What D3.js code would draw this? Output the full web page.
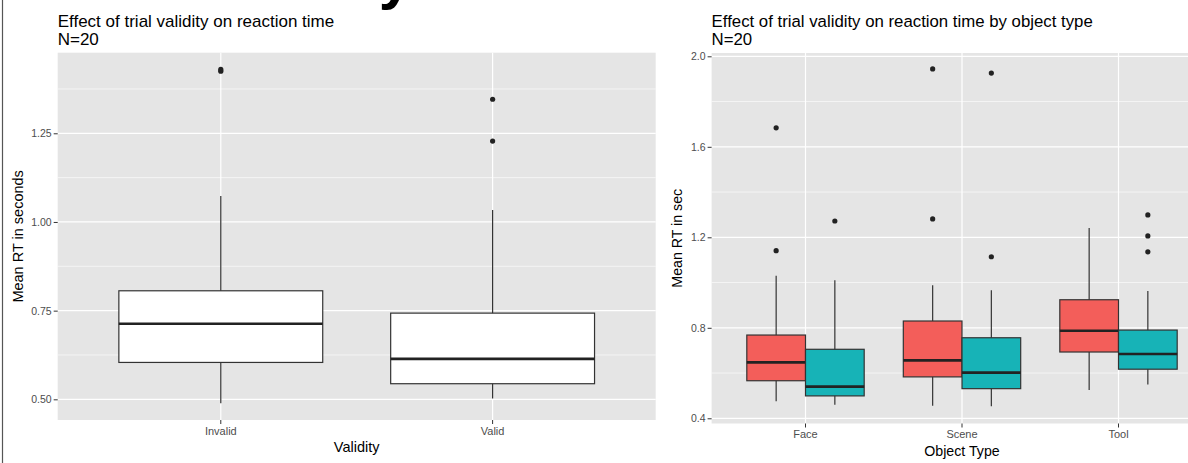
<!DOCTYPE html>
<html>
<head>
<meta charset="utf-8">
<script src="https://cdn.jsdelivr.net/npm/d3@7"></script>
<style>
  body { margin: 0; background: #fff; }
  svg { display: block; font-family: "Liberation Sans", Arial, sans-serif; }
</style>
</head>
<body>
<svg id="chart"></svg>
<script>
'use strict'

// left plot: validity only
var validity = ["Invalid", "Valid"];
// [lower whisker, q1, median, q3, upper whisker]
var validityBox = [
	[0.489, 0.604, 0.713, 0.806, 1.073],
	[0.502, 0.544, 0.614, 0.743, 1.034]
];
var validityOutliers = [[1.425, 1.430], [1.228, 1.346]];
var leftTicks = [0.50, 0.75, 1.00, 1.25];

// right plot: by object type
var objectTypes = ["Face", "Scene", "Tool"];
var trialTypes = ["Invalid", "Valid"];
var invalidBox = [
	[0.475, 0.566, 0.647, 0.768, 1.030],
	[0.456, 0.583, 0.656, 0.830, 0.988],
	[0.525, 0.693, 0.787, 0.924, 1.241]
];
var validBox = [
	[0.460, 0.499, 0.540, 0.705, 1.010],
	[0.453, 0.531, 0.602, 0.756, 0.966],
	[0.549, 0.617, 0.684, 0.790, 0.963]
];
var invalidOutliers = [[1.141, 1.684], [1.281, 1.944], []];
var validOutliers = [[1.272], [1.114, 1.926], [1.136, 1.206, 1.299]];
var rightTicks = [0.4, 0.8, 1.2, 1.6, 2.0];

var WIDTH = 1188, HEIGHT = 463;
var panelFill = "#e5e5e5",
	tickColor = "#4d4d4d",
	boxStroke = "#333333",
	fillColors = ["#f35e5a", "#17b3b7"];

var svg = d3.select("#chart").attr("width", WIDTH).attr("height", HEIGHT);

// frame line on the left and the slide heading, mostly above the picture
svg.append("line")
	.attr("x1", 2.5).attr("x2", 2.5).attr("y1", 0).attr("y2", HEIGHT)
	.style("stroke", "#555").style("stroke-width", 1.2);
svg.append("text")
	.attr("x", 412).attr("y", -2)
	.attr("text-anchor", "end")
	.style("font-size", "60px").style("font-weight", "bold")
	.text("Validity");

function drawPanel(opt) {
	var g = svg.append("g");
	var x = d3.scaleBand().domain(opt.cats).range([opt.left, opt.right])
		.paddingInner(0).paddingOuter(0.1);
	var y = d3.scaleLinear().domain(opt.yDomain).range([opt.bottom, opt.top]);

	g.append("rect")
		.attr("x", opt.left).attr("y", opt.top)
		.attr("width", opt.right - opt.left).attr("height", opt.bottom - opt.top)
		.style("fill", panelFill);

	// minor grid
	g.selectAll(".minor").data(opt.minor).enter().append("line")
		.attr("x1", opt.left).attr("x2", opt.right)
		.attr("y1", function(d) { return y(d) }).attr("y2", function(d) { return y(d) })
		.style("stroke", "#fff").style("stroke-width", 0.6);
	// major grid
	g.selectAll(".major").data(opt.ticks).enter().append("line")
		.attr("x1", opt.left).attr("x2", opt.right)
		.attr("y1", function(d) { return y(d) }).attr("y2", function(d) { return y(d) })
		.style("stroke", "#fff").style("stroke-width", 1.2);
	g.selectAll(".vgrid").data(opt.cats).enter().append("line")
		.attr("x1", function(d) { return x(d) + x.bandwidth() / 2 })
		.attr("x2", function(d) { return x(d) + x.bandwidth() / 2 })
		.attr("y1", opt.top).attr("y2", opt.bottom)
		.style("stroke", "#fff").style("stroke-width", 1.2);

	// y axis
	var yAxis = g.append("g")
		.attr("transform", "translate(" + opt.left + ",0)")
		.call(d3.axisLeft(y).tickValues(opt.ticks).tickFormat(d3.format(opt.fmt))
			.tickSize(4).tickPadding(2));
	yAxis.select(".domain").remove();
	yAxis.selectAll("line").style("stroke", "#333");
	yAxis.selectAll("text").style("fill", tickColor).style("font-size", "10.5px")
		.style("font-family", "Liberation Sans, Arial, sans-serif");

	// x axis
	var xAxis = g.append("g")
		.attr("transform", "translate(0," + opt.bottom + ")")
		.call(d3.axisBottom(x).tickSize(4).tickPadding(3));
	xAxis.select(".domain").remove();
	xAxis.selectAll("line").style("stroke", "#333");
	xAxis.selectAll("text").style("fill", tickColor).style("font-size", "11px")
		.style("font-family", "Liberation Sans, Arial, sans-serif");

	// titles
	g.append("text").attr("x", opt.left).attr("y", 27)
		.style("font-size", opt.titleSize).text(opt.title);
	g.append("text").attr("x", opt.left).attr("y", 45)
		.style("font-size", opt.titleSize).text("N=20");
	g.append("text")
		.attr("x", (opt.left + opt.right) / 2)
		.attr("y", opt.xTitleY)
		.attr("text-anchor", "middle")
		.style("font-size", opt.axisTitleSize).text(opt.xTitle);
	g.append("text")
		.attr("transform", "translate(" + opt.yTitleX + "," + ((opt.top + opt.bottom) / 2) + ") rotate(-90)")
		.attr("text-anchor", "middle")
		.style("font-size", opt.axisTitleSize).text(opt.yTitle);

	return { g: g, x: x, y: y };
}

function drawBox(g, y, cx, w, s, outs, fill) {
	g.append("line")
		.attr("x1", cx).attr("x2", cx).attr("y1", y(s[0])).attr("y2", y(s[4]))
		.style("stroke", boxStroke).style("stroke-width", 1.2);
	g.append("rect")
		.attr("x", cx - w / 2).attr("y", y(s[3]))
		.attr("width", w).attr("height", y(s[1]) - y(s[3]))
		.style("fill", fill).style("stroke", boxStroke).style("stroke-width", 1.2);
	g.append("line")
		.attr("x1", cx - w / 2).attr("x2", cx + w / 2)
		.attr("y1", y(s[2])).attr("y2", y(s[2]))
		.style("stroke", "#222").style("stroke-width", 2.6);
	g.selectAll(null).data(outs).enter().append("circle")
		.attr("cx", cx).attr("cy", function(d) { return y(d) })
		.attr("r", 2.6).style("fill", "#222");
}

// left panel
var left = drawPanel({
	cats: validity, left: 57.7, right: 655.7, top: 52.7, bottom: 420,
	yDomain: [0.4417, 1.4772], ticks: leftTicks, minor: [0.625, 0.875, 1.125, 1.375],
	fmt: ".2f", title: "Effect of trial validity on reaction time", titleSize: "17px",
	xTitle: "Validity", xTitleY: 452, yTitle: "Mean RT in seconds", yTitleX: 23,
	axisTitleSize: "14.5px"
});
validity.forEach(function(c, i) {
	var bw = left.x.bandwidth();
	drawBox(left.g, left.y, left.x(c) + bw / 2, bw * 0.75, validityBox[i], validityOutliers[i], "#fff");
});

// right panel
var right = drawPanel({
	cats: objectTypes, left: 711.6, right: 1212.4, top: 53, bottom: 423.5,
	yDomain: [0.377, 2.0146], ticks: rightTicks, minor: [0.6, 1.0, 1.4, 1.8],
	fmt: ".1f", title: "Effect of trial validity on reaction time by object type", titleSize: "16.8px",
	xTitle: "Object Type", xTitleY: 456, yTitle: "Mean RT in sec", yTitleX: 682,
	axisTitleSize: "14.2px"
});
var sub = d3.scaleBand().domain(trialTypes).range([-0.375, 0.375]);
objectTypes.forEach(function(c, i) {
	var bw = right.x.bandwidth();
	var cx = right.x(c) + bw / 2;
	var w = sub.bandwidth() * bw;
	drawBox(right.g, right.y, cx + (sub("Invalid") + sub.bandwidth() / 2) * bw, w, invalidBox[i], invalidOutliers[i], fillColors[0]);
	drawBox(right.g, right.y, cx + (sub("Valid") + sub.bandwidth() / 2) * bw, w, validBox[i], validOutliers[i], fillColors[1]);
});
</script>
</body>
</html>
